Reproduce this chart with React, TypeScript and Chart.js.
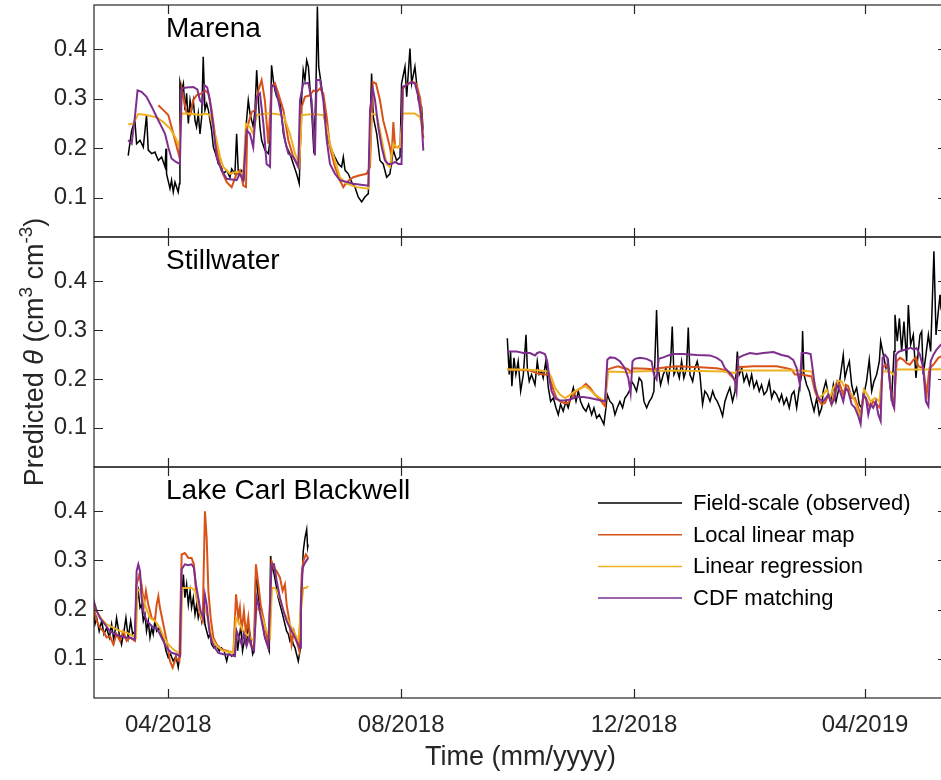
import React, { useEffect, useRef } from "react";
import { Chart, registerables } from "chart.js";

Chart.register(...registerables);

// ---- axis ticks (days since 2018-04-01) ----
const tickDays = [0, 122, 244, 365];
const tickLabels = ["04/2018", "08/2018", "12/2018", "04/2019"];
const yTicks = [0.1, 0.2, 0.3, 0.4];
const seriesNames = ["Field-scale (observed)", "Local linear map", "Linear regression", "CDF matching"];
const seriesColors = ["#000000", "#D95319", "#EDB120", "#7E2F8E"];
const siteNames = ["Marena", "Stillwater", "Lake Carl Blackwell"];

// ---- Marena ----
const marenaObs = [[-21.0,0.185],[-19.2,0.236],[-17.5,0.256],[-16.6,0.209],[-14.8,0.216],[-13.1,0.202],[-11.4,0.267],[-10.5,0.196],[-8.7,0.189],[-7.0,0.192],[-5.2,0.175],[-3.5,0.182],[-1.7,0.162],[-1.2,0.199],[-0.9,0.148],[0.9,0.118],[1.7,0.135],[2.6,0.111],[3.5,0.131],[5.2,0.111],[5.8,0.128],[6.1,0.334],[7.0,0.317],[7.9,0.331],[8.7,0.277],[9.6,0.311],[10.5,0.250],[11.4,0.297],[12.2,0.277],[13.1,0.297],[14.0,0.256],[14.8,0.243],[15.7,0.270],[16.6,0.229],[17.5,0.263],[18.3,0.385],[19.2,0.277],[20.1,0.290],[21.0,0.277],[22.7,0.236],[23.6,0.202],[25.3,0.182],[26.2,0.168],[27.9,0.162],[28.8,0.148],[30.6,0.155],[32.3,0.141],[33.2,0.158],[34.9,0.148],[35.8,0.229],[36.7,0.148],[38.4,0.155],[39.6,0.141],[40.7,0.243],[41.9,0.297],[42.8,0.270],[44.5,0.243],[45.4,0.277],[46.3,0.358],[47.2,0.297],[48.0,0.243],[48.9,0.216],[50.6,0.196],[52.4,0.189],[53.3,0.216],[54.1,0.368],[55.0,0.338],[55.9,0.317],[56.8,0.304],[58.5,0.297],[59.4,0.263],[60.3,0.229],[62.0,0.202],[63.7,0.189],[65.5,0.168],[67.2,0.148],[68.6,0.128],[69.9,0.304],[70.7,0.358],[71.6,0.338],[72.5,0.378],[73.4,0.365],[74.2,0.324],[75.1,0.277],[76.3,0.189],[77.4,0.331],[78.1,0.487],[78.8,0.365],[80.3,0.324],[82.1,0.277],[83.8,0.216],[85.6,0.196],[87.3,0.182],[89.1,0.168],[90.8,0.162],[91.7,0.182],[92.6,0.155],[94.3,0.148],[96.1,0.131],[97.8,0.121],[99.5,0.101],[101.3,0.091],[103.0,0.101],[104.8,0.108],[105.7,0.243],[106.5,0.351],[107.4,0.263],[109.2,0.229],[110.9,0.175],[112.6,0.168],[114.4,0.141],[116.1,0.148],[117.9,0.196],[119.6,0.175],[121.4,0.182],[122.2,0.331],[124.0,0.365],[124.9,0.304],[126.6,0.402],[127.5,0.331],[129.2,0.365],[131.0,0.297],[132.7,0.284],[133.6,0.229]];
const marenaLocal = [[-5.2,0.287],[-2.6,0.277],[0,0.267],[1.7,0.243],[4.0,0.209],[5.8,0.182],[7.0,0.321],[9.6,0.270],[11.4,0.267],[13.1,0.297],[14.8,0.307],[17.5,0.311],[19.2,0.317],[21.0,0.311],[22.7,0.277],[24.4,0.229],[26.2,0.182],[27.9,0.155],[30.6,0.131],[33.2,0.121],[35.8,0.148],[37.5,0.155],[39.3,0.124],[40.7,0.121],[41.4,0.243],[43.7,0.273],[45.4,0.277],[47.2,0.317],[48.9,0.338],[50.6,0.297],[52.4,0.209],[54.1,0.324],[55.9,0.331],[57.6,0.311],[60.3,0.277],[62.9,0.216],[65.5,0.182],[68.6,0.162],[69.9,0.284],[71.6,0.304],[74.2,0.307],[76.0,0.317],[77.7,0.314],[79.5,0.321],[81.2,0.311],[83.0,0.263],[84.7,0.202],[87.3,0.162],[89.9,0.135],[91.7,0.121],[93.4,0.131],[96.9,0.141],[100.4,0.145],[103.9,0.148],[105.7,0.162],[107.1,0.334],[108.8,0.331],[110.9,0.297],[112.6,0.256],[114.4,0.229],[116.1,0.202],[117.0,0.182],[117.9,0.253],[118.8,0.202],[120.5,0.202],[122.2,0.210],[122.8,0.320],[125.0,0.330],[128.0,0.335],[130.0,0.330],[132.0,0.300],[133.6,0.220]];
const marenaLinReg = [[-21.0,0.248],[-18.3,0.250],[-15.7,0.269],[-11.4,0.267],[-6.1,0.262],[-2.6,0.253],[0.9,0.240],[3.5,0.223],[5.8,0.202],[7.0,0.270],[11.4,0.270],[16.6,0.267],[19.2,0.270],[21.8,0.267],[23.6,0.243],[25.3,0.216],[27.1,0.182],[28.8,0.162],[32.3,0.148],[35.8,0.152],[39.3,0.148],[40.7,0.250],[42.8,0.243],[44.5,0.229],[46.3,0.267],[51.5,0.270],[54.1,0.270],[60.3,0.267],[63.7,0.229],[66.4,0.189],[68.6,0.168],[69.9,0.267],[76.0,0.269],[81.2,0.267],[83.0,0.243],[84.7,0.209],[87.3,0.175],[89.9,0.141],[93.4,0.128],[98.7,0.121],[104.8,0.118],[106.5,0.270],[109.2,0.267],[110.9,0.236],[112.6,0.202],[114.4,0.168],[116.1,0.162],[117.9,0.209],[119.6,0.202],[121.4,0.202],[122.8,0.270],[129.2,0.270],[131.9,0.263],[133.6,0.229]];
const marenaCdf = [[-21.0,0.216],[-19.2,0.209],[-17.5,0.263],[-16.1,0.317],[-14.0,0.314],[-11.4,0.304],[-8.7,0.284],[-6.1,0.263],[-3.5,0.243],[-1.7,0.229],[0,0.202],[1.7,0.179],[4.0,0.172],[6.1,0.168],[7.0,0.321],[9.6,0.323],[13.1,0.324],[15.2,0.319],[16.6,0.297],[18.0,0.290],[18.9,0.328],[20.4,0.323],[21.8,0.297],[23.6,0.243],[25.3,0.182],[27.9,0.155],[30.6,0.138],[35.8,0.135],[37.5,0.148],[39.3,0.135],[41.0,0.236],[42.8,0.229],[44.5,0.202],[46.3,0.304],[48.0,0.311],[49.8,0.250],[51.5,0.168],[53.3,0.162],[54.1,0.328],[55.9,0.324],[57.6,0.297],[59.4,0.263],[61.1,0.216],[62.9,0.189],[65.5,0.182],[68.1,0.162],[69.0,0.297],[70.7,0.331],[73.4,0.332],[75.1,0.297],[76.8,0.185],[77.7,0.338],[79.5,0.338],[81.2,0.297],[83.0,0.216],[84.7,0.168],[87.3,0.148],[89.9,0.135],[96.9,0.128],[104.8,0.124],[105.7,0.277],[107.1,0.321],[108.3,0.297],[110.0,0.243],[111.8,0.202],[113.5,0.175],[115.3,0.168],[117.0,0.168],[118.8,0.172],[120.5,0.168],[122.2,0.168],[122.8,0.324],[124.9,0.328],[127.5,0.334],[129.2,0.331],[131.0,0.304],[132.7,0.256],[133.6,0.195]];

// ---- Stillwater ----
const stillObs = [[177.6,0.283],[178.6,0.209],[179.3,0.256],[180.0,0.185],[181.1,0.243],[182.1,0.209],[183.3,0.236],[184.6,0.175],[186.0,0.209],[187.4,0.290],[188.1,0.222],[189.1,0.195],[190.3,0.209],[192.1,0.188],[193.3,0.236],[194.3,0.209],[195.6,0.215],[196.4,0.202],[197.8,0.236],[199.1,0.182],[200.3,0.154],[201.7,0.161],[203.1,0.141],[204.3,0.127],[205.5,0.148],[206.9,0.134],[208.3,0.154],[209.5,0.141],[210.8,0.161],[212.2,0.182],[213.6,0.154],[214.8,0.175],[216.0,0.154],[217.4,0.141],[218.8,0.134],[220.2,0.148],[221.8,0.127],[223.0,0.141],[224.4,0.120],[225.8,0.127],[227.0,0.117],[228.2,0.107],[229.3,0.141],[230.0,0.168],[231.4,0.154],[232.8,0.148],[234.0,0.127],[235.2,0.141],[236.6,0.154],[238.0,0.141],[239.2,0.161],[240.5,0.168],[241.5,0.175],[242.7,0.195],[243.9,0.188],[245.3,0.175],[246.7,0.202],[248.0,0.195],[249.2,0.154],[250.6,0.141],[252.0,0.154],[253.2,0.161],[254.4,0.175],[255.8,0.341],[256.7,0.222],[257.9,0.188],[259.3,0.209],[260.7,0.222],[261.9,0.195],[263.2,0.236],[264.0,0.307],[264.9,0.209],[266.3,0.222],[267.7,0.202],[268.9,0.236],[270.1,0.202],[271.5,0.222],[272.4,0.305],[273.3,0.209],[274.7,0.195],[275.9,0.222],[277.1,0.236],[278.5,0.209],[279.9,0.148],[281.1,0.175],[282.4,0.168],[283.8,0.154],[285.2,0.175],[286.4,0.161],[287.6,0.154],[289.0,0.141],[290.4,0.124],[291.6,0.154],[292.8,0.168],[294.2,0.182],[295.6,0.154],[296.9,0.175],[298.1,0.256],[299.1,0.209],[300.4,0.222],[301.6,0.195],[303.0,0.209],[304.4,0.188],[305.6,0.209],[306.8,0.182],[308.2,0.195],[309.6,0.175],[310.8,0.188],[312.1,0.168],[313.5,0.175],[314.8,0.195],[316.1,0.161],[317.3,0.175],[318.7,0.168],[320.1,0.154],[321.3,0.168],[322.5,0.148],[323.9,0.161],[325.3,0.141],[326.6,0.168],[327.8,0.175],[329.2,0.141],[330.6,0.182],[331.8,0.209],[332.3,0.298],[333.0,0.209],[334.4,0.188],[335.8,0.175],[337.0,0.154],[338.3,0.134],[339.7,0.161],[341.0,0.127],[342.3,0.141],[343.1,0.175],[344.5,0.195],[345.8,0.168],[347.0,0.154],[348.4,0.188],[349.8,0.154],[351.0,0.175],[352.2,0.209],[353.6,0.249],[354.5,0.202],[355.7,0.222],[356.8,0.236],[358.0,0.188],[359.2,0.168],[360.6,0.182],[362.0,0.148],[363.2,0.141],[364.4,0.168],[365.8,0.195],[367.2,0.239],[368.5,0.175],[369.7,0.195],[371.1,0.209],[372.5,0.236],[373.2,0.277],[374.6,0.249],[376.0,0.222],[377.2,0.236],[378.9,0.154],[380.2,0.256],[380.7,0.331],[381.9,0.277],[383.0,0.324],[384.2,0.256],[385.4,0.317],[386.8,0.236],[387.7,0.351],[388.9,0.270],[390.3,0.290],[391.7,0.202],[392.9,0.256],[393.8,0.290],[394.7,0.297],[395.5,0.209],[396.9,0.249],[398.2,0.290],[399.4,0.256],[401.1,0.461],[402.2,0.290],[403.4,0.338],[404.3,0.372],[404.8,0.344],[406.5,0.320]];
const stillLocal = [[177.6,0.219],[189.5,0.217],[192.9,0.212],[196.4,0.209],[199.1,0.209],[200.3,0.195],[202.0,0.175],[203.4,0.161],[205.2,0.154],[207.3,0.151],[209.5,0.151],[211.3,0.161],[213.6,0.175],[216.5,0.182],[218.8,0.190],[220.9,0.182],[223.5,0.168],[226.1,0.158],[228.8,0.144],[230.0,0.219],[232.2,0.222],[235.7,0.226],[238.4,0.222],[240.5,0.221],[242.2,0.215],[243.6,0.222],[250.6,0.221],[254.9,0.219],[256.7,0.222],[266.3,0.226],[278.5,0.224],[287.3,0.222],[290.8,0.219],[293.4,0.212],[296.0,0.202],[297.7,0.195],[298.6,0.224],[306.5,0.226],[318.7,0.226],[323.9,0.222],[326.6,0.219],[328.3,0.209],[331.8,0.209],[337.0,0.205],[338.8,0.175],[340.5,0.158],[342.3,0.148],[344.0,0.151],[345.8,0.168],[347.5,0.148],[349.3,0.175],[350.5,0.195],[351.9,0.188],[353.6,0.168],[355.0,0.188],[356.2,0.185],[358.0,0.161],[359.7,0.161],[361.5,0.141],[362.7,0.124],[364.1,0.165],[365.8,0.158],[367.6,0.141],[369.3,0.154],[371.1,0.148],[372.8,0.141],[374.2,0.222],[375.5,0.229],[377.2,0.222],[378.9,0.168],[380.2,0.144],[381.6,0.236],[383.3,0.243],[385.1,0.239],[386.8,0.232],[388.5,0.229],[390.3,0.239],[391.7,0.244],[392.9,0.226],[395.5,0.222],[397.3,0.168],[398.7,0.222],[400.8,0.229],[403.4,0.243],[404.8,0.246],[406.5,0.246]];
const stillLinReg = [[177.6,0.219],[186.0,0.219],[194.7,0.217],[199.1,0.215],[200.8,0.202],[202.6,0.182],[205.2,0.168],[207.8,0.161],[210.4,0.167],[213.0,0.175],[215.7,0.180],[218.3,0.185],[220.9,0.178],[223.5,0.168],[226.1,0.161],[228.8,0.154],[230.5,0.215],[238.4,0.214],[241.8,0.212],[243.6,0.215],[264.6,0.217],[290.8,0.215],[296.9,0.212],[298.6,0.217],[331.8,0.217],[337.0,0.215],[338.8,0.188],[340.5,0.161],[343.1,0.168],[344.9,0.178],[346.6,0.161],[348.4,0.182],[351.0,0.196],[352.7,0.195],[354.5,0.182],[356.2,0.175],[358.0,0.168],[359.7,0.154],[361.5,0.134],[362.7,0.117],[364.4,0.178],[366.2,0.168],[367.9,0.154],[370.2,0.161],[372.5,0.154],[374.2,0.215],[378.1,0.215],[379.8,0.209],[381.6,0.219],[395.5,0.219],[404.8,0.220],[406.5,0.220]];
const stillCdf = [[177.6,0.256],[182.5,0.256],[186.0,0.253],[189.5,0.253],[192.1,0.248],[193.3,0.253],[194.7,0.255],[197.3,0.251],[198.5,0.236],[199.6,0.202],[200.8,0.175],[202.6,0.160],[205.2,0.156],[207.8,0.156],[210.4,0.158],[213.9,0.163],[217.4,0.163],[220.9,0.161],[224.4,0.158],[228.8,0.154],[230.0,0.239],[231.4,0.244],[234.0,0.243],[236.6,0.236],[239.2,0.222],[241.0,0.202],[242.2,0.171],[243.2,0.236],[244.5,0.241],[247.1,0.243],[250.6,0.241],[253.2,0.236],[254.4,0.209],[255.8,0.199],[256.9,0.241],[259.3,0.244],[261.9,0.248],[264.6,0.251],[269.8,0.251],[276.8,0.249],[283.8,0.248],[287.3,0.243],[289.9,0.236],[291.6,0.222],[293.4,0.215],[295.1,0.209],[296.9,0.195],[297.7,0.175],[298.6,0.243],[301.2,0.248],[304.7,0.253],[308.2,0.251],[311.7,0.253],[317.0,0.255],[321.3,0.249],[324.8,0.246],[327.4,0.239],[329.2,0.222],[330.9,0.188],[331.8,0.253],[334.4,0.253],[336.5,0.251],[337.5,0.222],[338.8,0.182],[340.5,0.161],[343.1,0.154],[345.8,0.168],[347.5,0.148],[349.3,0.161],[350.1,0.188],[351.9,0.175],[353.6,0.154],[355.0,0.182],[356.2,0.175],[358.0,0.148],[359.7,0.141],[361.5,0.124],[362.7,0.108],[364.1,0.168],[365.5,0.161],[366.7,0.127],[367.9,0.148],[369.3,0.141],[370.7,0.154],[372.0,0.127],[373.2,0.114],[374.2,0.243],[375.5,0.249],[376.7,0.243],[378.1,0.188],[379.5,0.148],[380.3,0.141],[381.2,0.249],[382.4,0.255],[384.2,0.258],[386.8,0.260],[388.9,0.264],[390.6,0.260],[392.0,0.263],[393.8,0.249],[395.5,0.222],[396.9,0.154],[398.2,0.144],[399.4,0.236],[400.8,0.249],[402.5,0.260],[404.8,0.270],[406.5,0.272]];

// ---- Lake Carl Blackwell ----
const lcbObs = [[-39.3,0.197],[-38.4,0.170],[-37.5,0.183],[-36.2,0.156],[-34.9,0.177],[-33.7,0.150],[-32.3,0.163],[-30.9,0.143],[-29.7,0.170],[-28.5,0.136],[-27.1,0.183],[-25.7,0.150],[-24.5,0.129],[-23.2,0.156],[-22.2,0.183],[-21.0,0.143],[-19.7,0.177],[-18.7,0.150],[-17.5,0.156],[-16.6,0.210],[-15.7,0.237],[-14.8,0.204],[-14.0,0.210],[-13.1,0.177],[-12.2,0.190],[-11.4,0.156],[-10.5,0.177],[-9.6,0.143],[-8.7,0.163],[-7.9,0.150],[-7.0,0.177],[-6.1,0.156],[-4.7,0.163],[-3.5,0.150],[-2.3,0.136],[-1.2,0.116],[0,0.102],[1.2,0.109],[2.6,0.095],[4.0,0.105],[5.2,0.082],[6.1,0.109],[7.0,0.224],[7.9,0.271],[8.7,0.224],[9.6,0.251],[10.5,0.210],[11.4,0.238],[12.2,0.204],[13.1,0.224],[14.0,0.190],[14.8,0.210],[15.7,0.183],[16.6,0.197],[17.5,0.177],[18.3,0.210],[19.2,0.170],[20.1,0.156],[21.0,0.143],[21.8,0.150],[22.7,0.129],[23.9,0.122],[25.3,0.126],[26.7,0.116],[27.9,0.122],[29.2,0.116],[30.6,0.095],[31.4,0.109],[32.3,0.109],[33.2,0.105],[34.4,0.109],[35.5,0.163],[36.3,0.116],[37.2,0.143],[38.1,0.170],[38.9,0.116],[40.2,0.143],[41.0,0.129],[41.9,0.170],[43.1,0.143],[44.2,0.109],[44.9,0.116],[45.9,0.285],[46.8,0.238],[47.7,0.210],[48.6,0.190],[49.4,0.170],[50.6,0.143],[51.9,0.129],[52.9,0.116],[53.6,0.309],[54.6,0.285],[55.5,0.271],[56.4,0.251],[57.6,0.224],[58.5,0.210],[59.4,0.197],[60.3,0.183],[61.1,0.170],[62.0,0.156],[62.9,0.150],[63.7,0.136],[64.6,0.143],[65.5,0.129],[66.4,0.122],[67.2,0.109],[68.1,0.095],[69.0,0.116],[69.9,0.244],[70.7,0.319],[71.6,0.346],[72.5,0.363],[73.0,0.326],[73.3,0.332]];
const lcbLocal = [[-39.3,0.210],[-37.5,0.177],[-35.8,0.163],[-34.1,0.156],[-32.3,0.143],[-30.6,0.146],[-28.8,0.129],[-27.1,0.150],[-25.3,0.136],[-23.6,0.156],[-21.8,0.136],[-20.1,0.143],[-17.5,0.136],[-16.6,0.251],[-15.2,0.271],[-14.0,0.251],[-12.7,0.210],[-11.7,0.238],[-10.5,0.210],[-8.7,0.183],[-7.0,0.177],[-6.1,0.210],[-5.2,0.227],[-4.4,0.204],[-2.6,0.170],[-0.5,0.129],[0.9,0.095],[2.3,0.082],[4.0,0.102],[5.8,0.095],[7.0,0.312],[8.7,0.315],[10.5,0.305],[12.2,0.305],[13.4,0.292],[14.8,0.224],[16.6,0.190],[18.0,0.177],[19.2,0.400],[20.1,0.346],[21.0,0.238],[22.2,0.183],[23.6,0.143],[25.3,0.129],[27.9,0.119],[30.6,0.116],[34.1,0.112],[35.5,0.231],[36.7,0.183],[37.5,0.204],[38.4,0.156],[39.6,0.197],[40.7,0.150],[41.9,0.183],[43.1,0.129],[44.9,0.122],[45.9,0.292],[47.2,0.251],[48.4,0.210],[49.8,0.183],[51.1,0.156],[52.4,0.129],[54.1,0.298],[55.4,0.285],[56.8,0.278],[58.5,0.265],[59.9,0.238],[61.1,0.251],[62.0,0.210],[63.4,0.177],[64.6,0.129],[65.8,0.156],[67.2,0.136],[68.6,0.116],[69.9,0.271],[70.7,0.298],[72.1,0.312],[73.3,0.305]];
const lcbLinReg = [[-39.3,0.217],[-37.5,0.197],[-34.9,0.180],[-32.3,0.170],[-28.8,0.163],[-25.3,0.156],[-21.8,0.153],[-18.3,0.146],[-16.9,0.143],[-16.2,0.238],[-14.8,0.241],[-13.4,0.224],[-11.7,0.204],[-9.6,0.183],[-7.0,0.177],[-4.4,0.163],[-2.3,0.143],[0,0.129],[2.6,0.119],[5.2,0.112],[6.5,0.109],[7.2,0.244],[9.6,0.244],[12.2,0.244],[14.0,0.238],[15.7,0.210],[17.5,0.183],[19.2,0.204],[21.0,0.177],[22.7,0.143],[25.3,0.126],[28.8,0.116],[34.1,0.112],[35.5,0.183],[37.5,0.170],[39.3,0.156],[41.0,0.150],[42.8,0.143],[44.9,0.136],[46.3,0.204],[48.0,0.197],[49.8,0.177],[51.5,0.156],[53.3,0.143],[54.3,0.244],[55.9,0.244],[57.6,0.231],[59.4,0.210],[61.1,0.190],[62.9,0.177],[64.6,0.163],[66.4,0.150],[68.1,0.136],[69.3,0.190],[70.7,0.244],[72.1,0.244],[73.3,0.248]];
const lcbCdf = [[-39.3,0.221],[-37.5,0.197],[-35.8,0.183],[-33.2,0.170],[-30.6,0.156],[-27.9,0.150],[-25.3,0.146],[-22.7,0.143],[-20.1,0.143],[-17.5,0.139],[-16.6,0.278],[-15.7,0.292],[-14.8,0.278],[-14.0,0.224],[-13.1,0.197],[-11.4,0.177],[-9.6,0.170],[-7.9,0.163],[-6.1,0.163],[-4.4,0.150],[-2.6,0.136],[-0.9,0.122],[1.7,0.112],[4.4,0.109],[6.1,0.105],[7.0,0.282],[8.7,0.292],[10.5,0.290],[12.2,0.292],[13.4,0.285],[14.5,0.251],[15.7,0.224],[16.9,0.197],[18.3,0.183],[19.2,0.230],[20.1,0.210],[21.5,0.156],[22.7,0.136],[24.4,0.122],[26.2,0.112],[28.8,0.109],[32.3,0.108],[34.9,0.105],[35.8,0.156],[37.2,0.143],[38.4,0.129],[39.6,0.150],[41.0,0.126],[42.4,0.143],[43.7,0.122],[44.9,0.116],[46.3,0.224],[47.2,0.210],[48.9,0.177],[50.6,0.143],[52.4,0.122],[54.1,0.292],[55.4,0.292],[56.8,0.258],[58.5,0.224],[60.3,0.197],[62.0,0.177],[63.7,0.163],[65.5,0.150],[67.2,0.136],[69.0,0.122],[69.5,0.210],[70.4,0.285],[71.6,0.295],[73.3,0.305]];

const sites = [
  [marenaObs, marenaLocal, marenaLinReg, marenaCdf],
  [stillObs, stillLocal, stillLinReg, stillCdf],
  [lcbObs, lcbLocal, lcbLinReg, lcbCdf],
];

const FONT = '"Liberation Sans", Arial, Helvetica, sans-serif';
const AXIS_COLOR = "#262626";
const X_MIN = -38.92;
const X_MAX = 407.95;
const CANVAS_W = 960;
const CANVAS_H = 780;
const panels = [
  { top: 5, bottom: 237 },
  { top: 237, bottom: 467 },
  { top: 467, bottom: 698 },
];

const framePlugin = {
  id: "frame",
  afterDatasetsDraw(chart: any, _args: any, opts: any) {
    const { ctx, chartArea: a, scales } = chart;
    ctx.save();
    ctx.strokeStyle = AXIS_COLOR;
    ctx.lineWidth = 1.2;
    ctx.strokeRect(a.left, a.top, a.right - a.left, a.bottom - a.top);
    const tl = 9;
    ctx.beginPath();
    for (const v of yTicks) {
      const y = Math.round(scales.y.getPixelForValue(v)) + 0.5;
      ctx.moveTo(a.left, y);
      ctx.lineTo(a.left + tl, y);
      ctx.moveTo(a.right, y);
      ctx.lineTo(a.right - tl, y);
    }
    for (const d of tickDays) {
      const x = Math.round(scales.x.getPixelForValue(d)) + 0.5;
      ctx.moveTo(x, a.bottom);
      ctx.lineTo(x, a.bottom - tl);
      ctx.moveTo(x, a.top);
      ctx.lineTo(x, a.top + tl);
    }
    ctx.stroke();

    // site name
    ctx.fillStyle = "#000";
    ctx.textAlign = "left";
    ctx.textBaseline = "alphabetic";
    ctx.font = `28px ${FONT}`;
    ctx.fillText(opts.title, a.left + 72, a.top + 32);

    // y-axis title (shared, drawn once on the middle panel)
    if (opts.yTitle) {
      const segs = [
        { t: "Predicted ", f: `27px ${FONT}`, dy: 0 },
        { t: "\u03b8", f: `italic 27px ${FONT}`, dy: 0 },
        { t: " (cm", f: `27px ${FONT}`, dy: 0 },
        { t: "3", f: `19px ${FONT}`, dy: -11 },
        { t: " cm", f: `27px ${FONT}`, dy: 0 },
        { t: "-3", f: `19px ${FONT}`, dy: -11 },
        { t: ")", f: `27px ${FONT}`, dy: 0 },
      ];
      let total = 0;
      for (const s of segs) {
        ctx.font = s.f;
        total += ctx.measureText(s.t).width;
      }
      ctx.translate(42.5, (a.top + a.bottom) / 2);
      ctx.rotate(-Math.PI / 2);
      ctx.fillStyle = AXIS_COLOR;
      let x = -total / 2;
      for (const s of segs) {
        ctx.font = s.f;
        ctx.fillText(s.t, x, s.dy);
        x += ctx.measureText(s.t).width;
      }
      ctx.setTransform(1, 0, 0, 1, 0, 0);
    }

    // legend
    if (opts.legend) {
      ctx.font = `22px ${FONT}`;
      ctx.textBaseline = "middle";
      ctx.textAlign = "left";
      chart.data.datasets.forEach((ds: any, i: number) => {
        const y = 503 + i * 31.7;
        ctx.strokeStyle = ds.borderColor;
        ctx.lineWidth = 1.5;
        ctx.beginPath();
        ctx.moveTo(598, y);
        ctx.lineTo(682, y);
        ctx.stroke();
        ctx.fillStyle = "#000";
        ctx.fillText(ds.label, 693, y + 1);
      });
    }
    ctx.restore();
  },
};

function buildChart(canvas: HTMLCanvasElement, idx: number) {
  const showX = idx === 2;
  const panel = panels[idx];
  const datasets = sites[idx].map((pts, i) => ({
    label: seriesNames[i],
    data: pts.map(([x, y]) => ({ x, y })),
    borderColor: seriesColors[i],
    backgroundColor: seriesColors[i],
    borderWidth: i === 0 ? 1.5 : 2,
    pointRadius: 0,
    tension: 0,
    fill: false,
    order: 4 - i,
  }));
  return new Chart(canvas, {
    type: "line",
    data: { datasets },
    plugins: [framePlugin],
    options: {
      animation: false,
      responsive: false,
      maintainAspectRatio: false,
      devicePixelRatio: 1,
      events: [],
      parsing: false,
      layout: {
        padding: {
          left: 34,
          right: CANVAS_W - 947,
          top: panel.top,
          bottom: showX ? 0 : CANVAS_H - panel.bottom,
        },
      },
      plugins: {
        legend: { display: false },
        tooltip: { enabled: false },
        frame: { title: siteNames[idx], legend: showX, yTitle: idx === 1 },
      } as any,
      scales: {
        x: {
          type: "linear",
          min: X_MIN,
          max: X_MAX,
          display: showX,
          afterBuildTicks: (s: any) => {
            s.ticks = tickDays.map((v) => ({ value: v }));
          },
          afterFit: (s: any) => {
            s.height = showX ? 82 : 0;
            s.paddingLeft = 0;
            s.paddingRight = 0;
          },
          ticks: {
            autoSkip: false,
            maxRotation: 0,
            padding: 13,
            color: AXIS_COLOR,
            font: { family: FONT, size: 24 },
            callback: (_v: any, i: number) => tickLabels[i],
          },
          grid: { display: false, drawTicks: false },
          border: { display: false },
          title: {
            display: showX,
            text: "Time (mm/yyyy)",
            color: AXIS_COLOR,
            font: { family: FONT, size: 27 },
            padding: { top: 4, bottom: 6 },
          },
        },
        y: {
          type: "linear",
          min: 0.02,
          max: 0.49,
          afterBuildTicks: (s: any) => {
            s.ticks = yTicks.map((v) => ({ value: v }));
          },
          afterFit: (s: any) => {
            s.width = 60;
            s.paddingTop = 0;
            s.paddingBottom = 0;
          },
          ticks: {
            padding: 7,
            color: AXIS_COLOR,
            font: { family: FONT, size: 24 },
            callback: (v: any) => Number(v).toFixed(1),
          },
          grid: { display: false, drawTicks: false },
          border: { display: false },
        },
      },
    } as any,
  });
}

export default function App() {
  const r0 = useRef<HTMLCanvasElement>(null);
  const r1 = useRef<HTMLCanvasElement>(null);
  const r2 = useRef<HTMLCanvasElement>(null);

  useEffect(() => {
    const refs = [r0, r1, r2];
    const charts = refs.map((r, i) => buildChart(r.current as HTMLCanvasElement, i));
    return () => charts.forEach((c) => c.destroy());
  }, []);

  const cStyle: React.CSSProperties = {
    position: "absolute",
    left: 0,
    top: 0,
    width: CANVAS_W,
    height: CANVAS_H,
  };
  return (
    <div
      style={{
        position: "fixed",
        left: 0,
        top: 0,
        width: 941,
        height: 780,
        overflow: "hidden",
        background: "#fff",
      }}
    >
      <canvas ref={r0} width={CANVAS_W} height={CANVAS_H} style={cStyle} />
      <canvas ref={r1} width={CANVAS_W} height={CANVAS_H} style={cStyle} />
      <canvas ref={r2} width={CANVAS_W} height={CANVAS_H} style={cStyle} />
    </div>
  );
}
